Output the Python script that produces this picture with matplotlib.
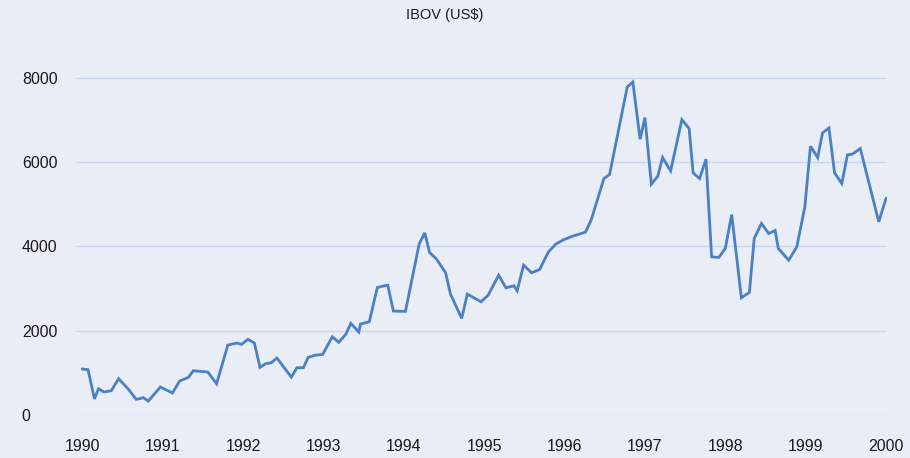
import matplotlib

matplotlib.use("Agg")
import matplotlib.pyplot as plt

plt.rcParams["font.family"] = ["Liberation Sans", "DejaVu Sans"]

# IBOV index in US$ (decimal year, value)
years = [
    1990.00, 1990.07, 1990.15, 1990.20, 1990.27, 1990.36, 1990.45, 1990.57,
    1990.67, 1990.76, 1990.82, 1990.97, 1991.12, 1991.21, 1991.32, 1991.38,
    1991.56, 1991.67, 1991.81, 1991.92, 1991.98, 1992.06, 1992.14, 1992.21,
    1992.28, 1992.35, 1992.42, 1992.60, 1992.67, 1992.75, 1992.81, 1992.89,
    1992.99, 1993.11, 1993.19, 1993.28, 1993.34, 1993.44, 1993.46, 1993.57,
    1993.67, 1993.80, 1993.87, 1994.02, 1994.19, 1994.26, 1994.32, 1994.41,
    1994.52, 1994.58, 1994.72, 1994.79, 1994.96, 1995.05, 1995.18, 1995.27,
    1995.37, 1995.41, 1995.49, 1995.59, 1995.69, 1995.80, 1995.89, 1995.98,
    1996.10, 1996.26, 1996.33, 1996.49, 1996.56, 1996.78, 1996.85, 1996.94,
    1997.00, 1997.08, 1997.16, 1997.22, 1997.32, 1997.46, 1997.55, 1997.60,
    1997.68, 1997.76, 1997.83, 1997.92, 1998.00, 1998.08, 1998.20, 1998.30,
    1998.36, 1998.45, 1998.54, 1998.62, 1998.66, 1998.79, 1998.89, 1998.99,
    1999.06, 1999.15, 1999.21, 1999.29, 1999.36, 1999.45, 1999.52, 1999.58,
    1999.68, 1999.91, 2000.00,
]
ibov = [
    1090, 1075, 380, 623, 545, 577, 860, 616,
    370, 411, 330, 664, 522, 806, 893, 1050,
    1019, 742, 1659, 1706, 1675, 1794, 1706, 1130,
    1216, 1240, 1351, 900, 1121, 1121, 1367, 1415,
    1438, 1856, 1723, 1920, 2173, 1967, 2157, 2211,
    3026, 3081, 2465, 2458, 4053, 4321, 3856, 3690,
    3373, 2868, 2292, 2868, 2686, 2844, 3318, 3017,
    3065, 2946, 3555, 3373, 3453, 3871, 4053, 4150,
    4242, 4337, 4621, 5609, 5704, 7781, 7900, 6541,
    7055, 5475, 5664, 6108, 5790, 7008, 6795, 5743,
    5609, 6067, 3752, 3737, 3950, 4756, 2780, 2908,
    4188, 4543, 4306, 4377, 3950, 3673, 3989, 4937,
    6375, 6108, 6691, 6809, 5743, 5491, 6169, 6186,
    6321, 4582, 5136,
]

year_ticks = list(range(1990, 2001))
value_ticks = [0, 2000, 4000, 6000, 8000]

bg = "#e9edf6"
grid_color = "#cbd7ee"
line_color = "#4a80c4"

fig = plt.figure(figsize=(9.10, 4.58), dpi=100, facecolor=bg)
ax = fig.add_axes([0.0835, 0.0939, 0.891, 0.8284], facecolor=bg)

ax.plot(years, ibov, color=line_color, linewidth=2.0, solid_joinstyle="miter")

ax.set_xlim(1989.92, 2000.01)
ax.set_ylim(0, 9000)
ax.set_xticks(year_ticks)
ax.set_yticks(value_ticks)

ax.grid(axis="y", color=grid_color, linewidth=1.0)
ax.set_axisbelow(True)
for side in ["top", "right", "left", "bottom"]:
    ax.spines[side].set_visible(False)

ax.tick_params(axis="both", length=0, labelsize=11.5, colors="#1a1a1a")
ax.tick_params(axis="x", pad=17)
ax.tick_params(axis="y", pad=39)
for label in ax.get_yticklabels():
    label.set_horizontalalignment("left")

fig.text(0.489, 0.967, "IBOV (US$)", ha="center", va="center",
         fontsize=10.5, color="#1a1a1a")

fig.savefig("out.png", dpi=100, facecolor=bg)
